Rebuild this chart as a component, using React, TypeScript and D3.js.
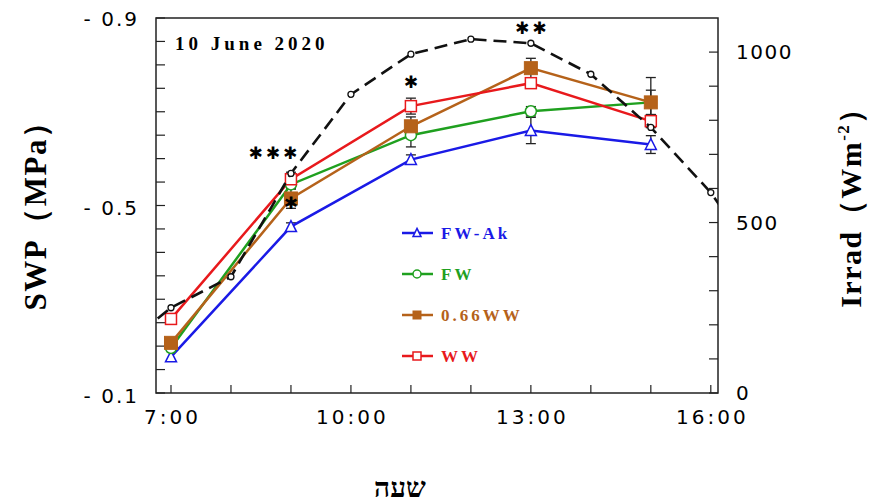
import React from 'react'
import * as d3 from 'd3'

// sampling hours for the water potential series
const hours = [7, 9, 11, 13, 15]

const seriesNames = ['FW-Ak', 'FW', '0.66WW', 'WW']
const seriesColors = ['#1a1ae6', '#1fa01f', '#b5621a', '#e8191c']
const seriesShapes = ['triangle', 'circle', 'filledSquare', 'square']

const swpFwAk = [-0.177, -0.455, -0.598, -0.66, -0.63]
const swpFw = [-0.196, -0.545, -0.65, -0.701, -0.72]
const swp066 = [-0.207, -0.515, -0.669, -0.793, -0.72]
const swpWw = [-0.258, -0.556, -0.712, -0.761, -0.68]

const errFwAk = [0, 0.008, 0.01, 0.028, 0.019]
const errFw = [0, 0.01, 0.025, 0.01, 0.026]
const err066 = [0, 0.021, 0.02, 0.021, 0.053]
const errWw = [0, 0.015, 0.017, 0.011, 0.014]

// irradiance, right axis
const irradHours = [6, 7, 8, 9, 10, 11, 12, 13, 14, 15, 16, 17]
const irrad = [108, 250, 341, 644, 876, 994, 1038, 1026, 935, 779, 588, 333]

// significance marks
const starHours = [8.7, 9, 11, 13]
const starValues = [-0.611, -0.506, -0.763, -0.879]
const starLabels = ['✱✱✱', '✱', '✱', '✱✱']

const xTickHours = [7, 8, 9, 10, 11, 12, 13, 14, 15, 16]
const xLabelHours = [7, 10, 13, 16]
const yTicks = d3.range(-0.1, -0.91, -0.05)
const yLabels = [-0.1, -0.5, -0.9]
const rTicks = d3.range(0, 1001, 100)
const rLabels = [0, 500, 1000]

const W = 870
const H = 504
const left = 156, right = 718, top = 18, bottom = 393

function Marker({ shape, x, y, color, s }: any) {
  if (shape === 'triangle') {
    const h = s * 0.9
    return <path d={`M${x},${y - h / 2 - 1}L${x + s / 2},${y + h / 2}L${x - s / 2},${y + h / 2}Z`} fill="white" stroke={color} strokeWidth={1.5} />
  }
  if (shape === 'circle') {
    return <circle cx={x} cy={y} r={s / 2} fill="white" stroke={color} strokeWidth={1.5} />
  }
  if (shape === 'filledSquare') {
    return <rect x={x - s / 2} y={y - s / 2} width={s} height={s} fill={color} stroke={color} strokeWidth={1} />
  }
  return <rect x={x - s / 2} y={y - s / 2} width={s} height={s} fill="white" stroke={color} strokeWidth={1.5} />
}

export default function App() {
  const x = d3.scaleLinear().domain([6.75, 16.12]).range([left, right])
  const y = d3.scaleLinear().domain([-0.1, -0.9]).range([bottom, top])
  const yr = d3.scaleLinear().domain([0, 1100]).range([bottom, top])

  const allSeries = [swpFwAk, swpFw, swp066, swpWw]
  const allErr = [errFwAk, errFw, err066, errWw]

  const line = d3.line<number>().x((d, i) => x(hours[i])).y(d => y(d))
  const irradLine = d3.line<number>().x((d, i) => x(irradHours[i])).y(d => yr(d))

  const tickFont = '"DejaVu Sans", Verdana, sans-serif'
  const serif = '"Liberation Serif", "Times New Roman", serif'

  return (
    <svg width={W} height={H} style={{ position: 'absolute', left: 0, top: 0, background: 'white' }}>
      <defs>
        <clipPath id="plotClip">
          <rect x={left} y={top} width={right - left} height={bottom - top} />
        </clipPath>
      </defs>

      {/* frame */}
      <rect x={left} y={top} width={right - left} height={bottom - top} fill="none" stroke="#222" strokeWidth={1.5} />

      {/* x ticks */}
      {xTickHours.map(h => (
        <line key={'xt' + h} x1={x(h)} x2={x(h)} y1={bottom} y2={bottom - 8} stroke="#222" strokeWidth={1.2} />
      ))}
      {xLabelHours.map(h => (
        <text key={'xl' + h} x={x(h) + 1.5} y={bottom + 31} textAnchor="middle" fontFamily={tickFont} fontSize={20} letterSpacing={3}>
          {h}:00
        </text>
      ))}

      {/* left ticks */}
      {yTicks.map(v => (
        <line key={'yt' + v} x1={left} x2={left + 9} y1={y(v)} y2={y(v)} stroke="#222" strokeWidth={1.2} />
      ))}
      {yLabels.map((v, i) => (
        <text key={'yl' + v} x={139} y={y(v) + 10 - i} textAnchor="end" fontFamily={tickFont} fontSize={20} letterSpacing={2}>
          {'- ' + d3.format('.1f')(-v)}
        </text>
      ))}

      {/* right ticks */}
      {rTicks.map(v => (
        <line key={'rt' + v} x1={right} x2={right - 9} y1={yr(v)} y2={yr(v)} stroke="#222" strokeWidth={1.2} />
      ))}
      {rLabels.map(v => (
        <text key={'rl' + v} x={right + 18} y={yr(v) + 7} textAnchor="start" fontFamily={tickFont} fontSize={20} letterSpacing={1.5}>
          {v}
        </text>
      ))}

      {/* axis titles */}
      <text transform="translate(46,208) rotate(-90)" textAnchor="middle" fontFamily={serif} fontWeight="bold" fontSize={31} letterSpacing={1.5}>
        SWP（MPa）
      </text>
      <text transform="translate(861,200) rotate(-90)" textAnchor="middle" fontFamily={serif} fontWeight="bold" fontSize={30} letterSpacing={1.5}>
        Irrad（Wm<tspan fontSize={17} dy={-12}>-2</tspan><tspan dy={12}>）</tspan>
      </text>
      <text x={400} y={497} textAnchor="middle" fontFamily={serif} fontWeight="bold" fontSize={28}>
        שעה
      </text>

      <text x={175} y={50} fontFamily={serif} fontWeight="bold" fontSize={19} letterSpacing={4}>
        10 June 2020
      </text>

      {/* error bars */}
      {allSeries.map((s, si) => (
        <g key={'eb' + si}>
          {s.map((v, i) => allErr[si][i] > 0 && (
            <g key={i} stroke="#222" strokeWidth={1.3}>
              <line x1={x(hours[i])} x2={x(hours[i])} y1={y(v - allErr[si][i])} y2={y(v + allErr[si][i])} />
              <line x1={x(hours[i]) - 5} x2={x(hours[i]) + 5} y1={y(v - allErr[si][i])} y2={y(v - allErr[si][i])} />
              <line x1={x(hours[i]) - 5} x2={x(hours[i]) + 5} y1={y(v + allErr[si][i])} y2={y(v + allErr[si][i])} />
            </g>
          ))}
        </g>
      ))}

      {/* series lines */}
      {allSeries.map((s, si) => (
        <path key={'ln' + si} d={line(s) || ''} fill="none" stroke={seriesColors[si]} strokeWidth={2.5} />
      ))}
      {allSeries.map((s, si) => (
        <g key={'mk' + si}>
          {s.map((v, i) => (
            <Marker key={i} shape={seriesShapes[si]} x={x(hours[i])} y={y(v)} color={seriesColors[si]} s={si === 2 ? 13 : 11} />
          ))}
        </g>
      ))}

      {/* irradiance */}
      <g clipPath="url(#plotClip)">
        <path d={irradLine(irrad) || ''} fill="none" stroke="#111" strokeWidth={2.6} strokeDasharray="13,7" />
        {irrad.map((v, i) => (
          <circle key={i} cx={x(irradHours[i])} cy={yr(v)} r={3} fill="white" stroke="#111" strokeWidth={1.3} />
        ))}
      </g>

      {/* significance */}
      {starLabels.map((t, i) => (
        <text key={'st' + i} x={x(starHours[i]) + 1.5} y={y(starValues[i]) + 6} textAnchor="middle" fontFamily='"DejaVu Sans", sans-serif' fontWeight="bold" fontSize={17} letterSpacing={3}>
          {t}
        </text>
      ))}

      {/* legend */}
      {seriesNames.map((n, i) => {
        const ly = 233 + i * 41
        return (
          <g key={'lg' + i}>
            <line x1={402} x2={433} y1={ly} y2={ly} stroke={seriesColors[i]} strokeWidth={2.5} />
            <Marker shape={seriesShapes[i]} x={417} y={ly} color={seriesColors[i]} s={8} />
            <text x={441} y={ly + 6} fill={seriesColors[i]} fontFamily={serif} fontWeight="bold" fontSize={17} letterSpacing={3}>
              {n}
            </text>
          </g>
        )
      })}
    </svg>
  )
}
